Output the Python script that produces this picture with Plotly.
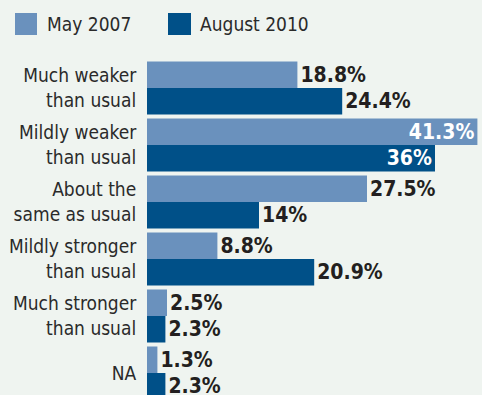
import plotly.graph_objects as go

categories = ["Much weaker<br>than usual", "Mildly weaker<br>than usual", "About the<br>same as usual",
              "Mildly stronger<br>than usual", "Much stronger<br>than usual", "NA"]
may2007 = [18.8, 41.3, 27.5, 8.8, 2.5, 1.3]
aug2010 = [24.4, 36, 14, 20.9, 2.3, 2.3]
series_names = ["May 2007", "August 2010"]

W, H = 482, 395
ML, MR, MT, MB = 147, 0, 60, 0
PW, PH = W - ML - MR, H - MT - MB

def px(x):
    return (x - ML) / PW

def py(y):
    return (H - MB - y) / PH

FONT = "Liberation Sans Narrow, DejaVu Sans Condensed, Arial Narrow, sans-serif"
LIGHT = "#6A91BD"
DARK = "#005088"
BG = "#EFF4F0"
TXT = "#231F20"

def fmt(v):
    return (f"{v:g}") + "%"

def positions(vals, inside_threshold=30):
    return ["inside" if v > inside_threshold else "outside" for v in vals]

def colors(vals, inside_threshold=30):
    return ["white" if v > inside_threshold else TXT for v in vals]

ys = list(range(len(categories)))

fig = go.Figure()
for name, vals, col in [(series_names[0], may2007, LIGHT), (series_names[1], aug2010, DARK)]:
    fig.add_trace(go.Bar(
        y=ys, x=vals, orientation="h", name=name, marker_color=col,
        marker_line_width=0,
        text=[fmt(v) for v in vals], textposition=positions(vals),
        textfont=dict(family=FONT, size=21, color=colors(vals), weight="bold"),
        insidetextanchor="end", constraintext="none", cliponaxis=False,
        hoverinfo="skip",
    ))

fig.update_layout(
    width=W, height=H, margin=dict(l=ML, r=MR, t=MT, b=MB, pad=0, autoexpand=False),
    paper_bgcolor=BG, plot_bgcolor=BG, barmode="group",
    bargap=0.07, bargroupgap=0, showlegend=False,
    font=dict(family=FONT, color=TXT),
    xaxis=dict(range=[0, PW / 8.0], visible=False, fixedrange=True, automargin=False),
    yaxis=dict(range=[5.386, -0.491], tickmode="array", tickvals=ys, ticktext=categories,
               automargin=False,
               showgrid=False, zeroline=False, showline=False, ticks="outside", ticklen=6,
               tickcolor="rgba(0,0,0,0)", tickfont=dict(family=FONT, size=19, color="#2a2a2a")),
)

# legend drawn manually
legend_items = [(series_names[0], LIGHT, 15, 37, 45), (series_names[1], DARK, 168, 191, 198)]
for name, col, x0, x1, tx in legend_items:
    fig.add_shape(type="rect", xref="paper", yref="paper", x0=px(x0), x1=px(x1), y0=py(35), y1=py(13),
                  fillcolor=col, line_width=0)
    fig.add_annotation(xref="paper", yref="paper", x=px(tx), y=py(24), text=name, showarrow=False,
                       xanchor="left", yanchor="middle", font=dict(family=FONT, size=19, color="#2a2a2a"))

fig.write_html("out.html")
